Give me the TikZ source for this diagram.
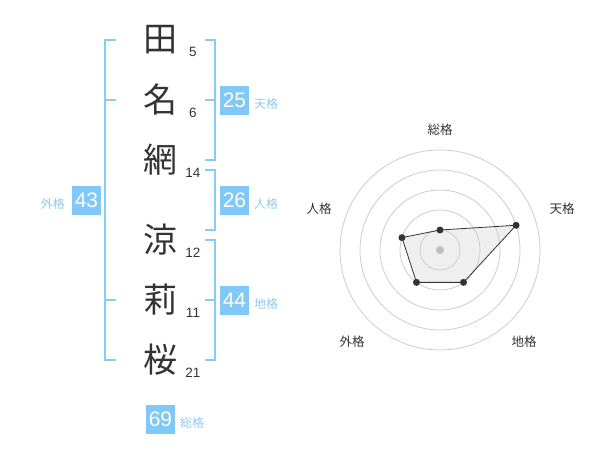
\documentclass[tikz,border=0pt]{standalone}
\usepackage{fontspec}
\setmainfont{Liberation Sans}
\newfontfamily\jp{Noto Sans CJK JP}
\definecolor{br}{HTML}{84CDF8}
\definecolor{bx}{HTML}{80C8F8}
\definecolor{lb}{HTML}{8CCBF2}
\definecolor{ink}{HTML}{333333}
\definecolor{ring}{HTML}{CCCCCC}
\definecolor{area}{HTML}{EFEFEF}
\begin{document}
\begin{tikzpicture}[x=1pt,y=-1pt,
  bigch/.style={inner sep=0pt,font=\jp\fontsize{34}{34}\selectfont,text=ink},
  strk/.style={inner sep=0pt,font=\fontsize{13.5}{14}\selectfont,text=ink},
  numbox/.style={fill=bx,minimum width=29pt,minimum height=29pt,inner sep=0pt,text=white,font=\fontsize{21}{21}\selectfont},
  kaku/.style={inner sep=0pt,text=lb,font=\jp\fontsize{12}{12}\selectfont},
  brk/.style={draw=br,line width=2pt},
  rlab/.style={inner sep=0pt,text=ink,font=\jp\fontsize{12.5}{13}\selectfont},
  dot/.style={circle,fill=ink,inner sep=0pt,minimum size=7pt}]
\useasboundingbox (0,0) rectangle (600,470);
% characters
\node[bigch] (c1) at (160,40) {田};
\node[bigch] (c2) at (160,100) {名};
\node[bigch] (c3) at (160,160) {網};
\node[bigch] (c4) at (160,240) {涼};
\node[bigch] (c5) at (160,300) {莉};
\node[bigch] (c6) at (160,360) {桜};
\node[strk] (n1) at (193,52) {5};
\node[strk] (n2) at (193,113) {6};
\node[strk] (n3) at (193,173) {14};
\node[strk] (n4) at (193,253) {12};
\node[strk] (n5) at (193,313) {11};
\node[strk] (n6) at (193,373) {21};
% brackets
\draw[brk] (116,40) -- (105,40) -- (105,360) -- (116,360);
\draw[brk] (105,100) -- (116,100);
\draw[brk] (105,300) -- (116,300);
\draw[brk] (205,40) -- (215,40) -- (215,160) -- (205,160);
\draw[brk] (205,100) -- (215,100);
\draw[brk] (205,170) -- (215,170) -- (215,230) -- (205,230);
\draw[brk] (205,240) -- (215,240) -- (215,360) -- (205,360);
\draw[brk] (205,300) -- (215,300);
% boxes
\node[numbox] (ten) at (234.5,100.5) {25};
\node[kaku,anchor=west] (tenl) at (254,104) {天格};
\node[numbox] (jin) at (234.5,200.5) {26};
\node[kaku,anchor=west] (jinl) at (254,204) {人格};
\node[numbox] (chi) at (234.5,300.5) {44};
\node[kaku,anchor=west] (chil) at (254,304) {地格};
\node[numbox] (gai) at (86.5,200.5) {43};
\node[kaku,anchor=east] (gail) at (65,204) {外格};
\node[numbox] (sou) at (160.5,419) {69};
\node[kaku,anchor=west] (soul) at (180,423) {総格};
% radar
\coordinate (O) at (440,250);
\path (O) ++(0,-20) coordinate (pS);
\path (O) ++(-18:80) coordinate (pT);
\path (O) ++(54:40) coordinate (pC);
\path (O) ++(126:40) coordinate (pG);
\path (O) ++(198:40) coordinate (pJ);
\fill[area] (pS) -- (pT) -- (pC) -- (pG) -- (pJ) -- cycle;
\foreach \r in {20,40,60,80,100} \draw[ring,line width=0.8pt] (O) circle[radius=\r];
\fill[black!25] (O) circle[radius=4];
\draw[ink,line width=0.8pt] (pS) -- (pT) -- (pC) -- (pG) -- (pJ) -- cycle;
\foreach \p in {pS,pT,pC,pG,pJ} \node[dot] at (\p) {};
\node[rlab] (rS) at (440,130) {総格};
\node[rlab] (rT) at (562,209) {天格};
\node[rlab] (rC) at (524,342) {地格};
\node[rlab] (rG) at (352,342) {外格};
\node[rlab] (rJ) at (319,209) {人格};
\end{tikzpicture}
\end{document}
